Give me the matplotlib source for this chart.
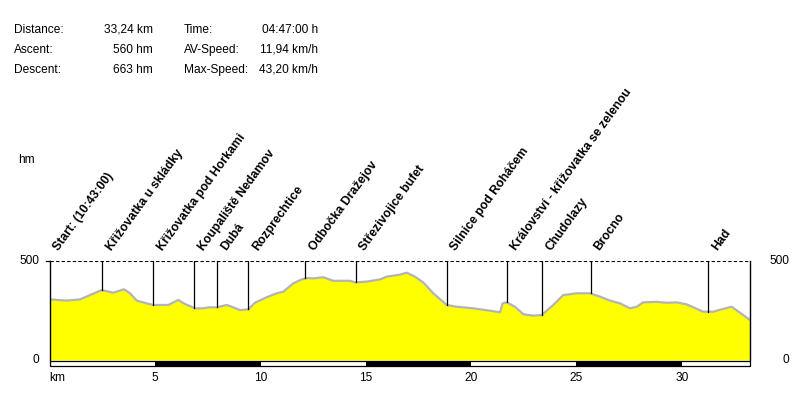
import numpy as np
import matplotlib
matplotlib.use("Agg")
import matplotlib.pyplot as plt
from matplotlib.patches import Rectangle

plt.rcParams['font.family'] = ['Liberation Sans', 'DejaVu Sans']

# elevation profile (km, m)
dist_km = [0.00, 0.79, 1.42, 1.90, 2.45, 3.01, 3.51, 3.80, 4.12, 4.59, 4.91, 5.62,
           5.86, 6.09, 6.41, 6.89, 7.28, 7.52, 7.91, 8.39, 8.70, 9.02, 9.42, 9.73,
           10.29, 10.76, 11.08, 11.55, 11.95, 12.19, 12.50, 12.98, 13.45, 14.25, 14.48,
           15.04, 15.67, 15.99, 16.62, 16.94, 17.33, 17.73, 18.20, 18.84, 19.31, 20.10,
           20.89, 21.37, 21.49, 21.69, 22.08, 22.48, 22.95, 23.35, 23.90, 24.37, 25.01,
           25.64, 26.12, 26.59, 27.07, 27.54, 27.86, 28.17, 28.81, 29.28, 29.76, 30.23,
           30.55, 31.02, 31.50, 31.89, 32.37, 32.76, 33.24]
elev_m = [306, 300, 306, 328, 353, 340, 357, 337, 300, 286, 278, 278,
          291, 303, 283, 261, 261, 266, 266, 278, 266, 252, 256, 289,
          317, 337, 345, 387, 407, 414, 412, 418, 400, 400, 392,
          396, 407, 421, 431, 441, 421, 391, 337, 278, 269, 261,
          249, 241, 286, 291, 269, 231, 224, 227, 278, 328, 337,
          337, 320, 300, 286, 261, 269, 291, 294, 289, 291, 281,
          266, 244, 244, 256, 269, 239, 202]

# waypoints
wp_km = [0.0, 2.48, 4.91, 6.86, 7.95, 9.42, 12.12, 14.51, 18.84, 21.69, 23.35, 25.67, 31.26]
wp_names = ["Start: (10:43:00)", "Křižovatka u skládky", "Křižovatka pod Horkami",
            "Koupaliště Nedamov", "Dubá", "Rozprechtice", "Odbočka Dražejov",
            "Střezivojice bufet", "Silnice pod Roháčem",
            "Království - křižovatka se zelenou", "Chudolazy", "Brocno", "Had"]

stats_left = [("Distance:", "33,24 km"), ("Ascent:", "560 hm"), ("Descent:", "663 hm")]
stats_right = [("Time:", "04:47:00 h"), ("AV-Speed:", "11,94 km/h"), ("Max-Speed:", "43,20 km/h")]

xticks = [5, 10, 15, 20, 25, 30]
total_km = 33.24

W, H = 800, 396
fig = plt.figure(figsize=(8, 3.96), dpi=100)
ax = fig.add_axes([50 / W, 1 - 360 / H, 700 / W, 99 / H])

ax.fill_between(dist_km, elev_m, 0, color='#ffff00', lw=0)
ax.plot(dist_km, elev_m, color='#b4b4b4', lw=1.6)

ax.set_xlim(0, total_km)
ax.set_ylim(0, 500)
ax.axhline(500, color='black', lw=0.8, ls=(0, (3, 2)))
for s in ['top', 'bottom']:
    ax.spines[s].set_visible(False)
for s in ['left', 'right']:
    ax.spines[s].set_linewidth(1.0)
ax.set_xticks([])
ax.set_yticks([])

# waypoint lines and labels
for km, name in zip(wp_km, wp_names):
    top_prof = np.interp(km, dist_km, elev_m)
    if km > 0:
        ax.plot([km, km], [top_prof, 500], color='black', lw=0.9)
    ax.annotate(name, xy=(km, 500), xytext=(6.5, 7), textcoords='offset points',
                rotation=54, rotation_mode='anchor', ha='left', va='baseline',
                fontsize=8.8, fontweight='bold', annotation_clip=False)

# scale bar below the axis
bar_y0, bar_h = -30, 25
for i in range(int(np.ceil(total_km / 5))):
    x0 = i * 5
    x1 = min(x0 + 5, total_km)
    ax.add_patch(Rectangle((x0, bar_y0), x1 - x0, bar_h,
                           facecolor='black' if i % 2 else 'white',
                           edgecolor='none', clip_on=False))
ax.add_patch(Rectangle((0, bar_y0), total_km, bar_h, facecolor='none',
                       edgecolor='black', lw=0.9, clip_on=False))

# axis labels
fs = 8.6
for k in xticks:
    ax.text(k, -90, str(k), ha='center', va='center', fontsize=fs)
ax.text(-0.05, -90, "km", ha='left', va='center', fontsize=fs)
fig.text(39 / W, 1 - 261 / H, "500", ha='right', va='center', fontsize=fs)
fig.text(39 / W, 1 - 360 / H, "0", ha='right', va='center', fontsize=fs)
fig.text(789 / W, 1 - 261 / H, "500", ha='right', va='center', fontsize=fs)
fig.text(789 / W, 1 - 360 / H, "0", ha='right', va='center', fontsize=fs)
fig.text(18 / W, 1 - 160 / H, "hm", ha='left', va='center', fontsize=fs)
ax.plot([-0.2, 0], [500, 500], color='black', lw=0.9, clip_on=False)

# header stats
rows_y = [30, 50, 70]
for (lab, val), y in zip(stats_left, rows_y):
    fig.text(14 / W, 1 - y / H, lab, ha='left', va='center', fontsize=fs)
    fig.text(153 / W, 1 - y / H, val, ha='right', va='center', fontsize=fs)
for (lab, val), y in zip(stats_right, rows_y):
    fig.text(184 / W, 1 - y / H, lab, ha='left', va='center', fontsize=fs)
    fig.text(318 / W, 1 - y / H, val, ha='right', va='center', fontsize=fs)

fig.savefig("out.png", dpi=100, facecolor='white')
